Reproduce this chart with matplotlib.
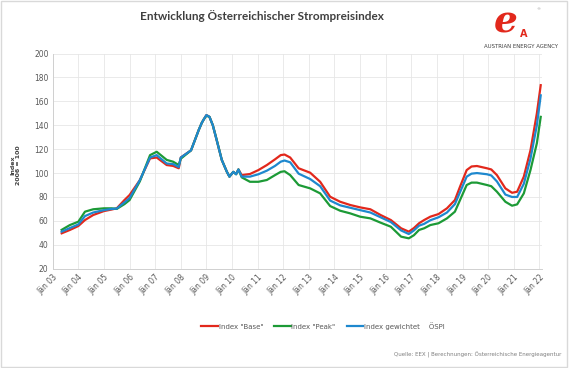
import matplotlib
matplotlib.use("Agg")
import matplotlib.pyplot as plt
from matplotlib.patches import Rectangle

# time points (decimal years)
t = [2003.35, 2003.67, 2004.0, 2004.26, 2004.58, 2005.0, 2005.3, 2005.5, 2005.8, 2006.0,
     2006.4, 2006.8, 2007.06, 2007.45, 2007.7, 2007.92, 2008.0, 2008.4, 2008.7, 2008.82,
     2008.9, 2009.0, 2009.12, 2009.25, 2009.4, 2009.6, 2009.8, 2009.9, 2010.05, 2010.16,
     2010.25, 2010.38, 2010.7, 2011.03, 2011.36, 2011.68, 2011.9, 2012.05, 2012.27, 2012.6,
     2013.05, 2013.44, 2013.83, 2014.22, 2014.61, 2015.0, 2015.4, 2015.8, 2016.2, 2016.6,
     2016.9, 2017.1, 2017.3, 2017.5, 2017.74, 2018.06, 2018.39, 2018.7, 2018.9, 2019.16,
     2019.35, 2019.56, 2019.95, 2020.12, 2020.34, 2020.67, 2020.93, 2021.13, 2021.39, 2021.65,
     2021.9, 2022.05]

base = [49.6, 52.4, 55.7, 60.7, 64.9, 68.2, 69.5, 70.5, 77.4, 81.6,
        94, 112.3, 113, 106.7, 106, 104, 113, 119, 136, 142,
        145, 148.5, 147, 140, 127.6, 111, 101, 97, 101, 99.2,
        103, 98.3, 99.2, 102.5, 106.7, 111.5, 115, 115.5, 113, 104,
        100.3, 92.7, 80.2, 76, 73.3, 71.3, 69.7, 64.9, 60.7, 53.8,
        51, 54, 58, 60.7, 63.5, 65.7, 70.5, 77.4, 88.6, 102.5,
        105.5, 105.9, 104, 103, 98.3, 87.2, 83.5, 84.4, 97, 119,
        150, 173.5]

peak = [52.5, 56.5, 59.3, 67.7, 69.7, 70.5, 70.5, 70.0, 74, 77.4,
        93, 115, 117.8, 111, 109.5, 106.7, 112, 119, 136, 142,
        145, 148, 147, 140, 128, 111, 101, 97, 101, 99,
        103, 96.4, 92.7, 92.7, 94.2, 98.3, 101, 101.5, 98.3, 90,
        87.2, 83, 72.4, 68.5, 66.3, 63.5, 62.1, 58.5, 55.1, 46.8,
        45.4, 48, 52.4, 53.8, 56.5, 58, 62.1, 67.7, 77.4, 90,
        92, 92, 90, 89, 84.4, 76, 72.7, 73.8, 83, 102.5,
        125, 147]

weighted = [51, 54, 57, 64, 67, 69, 70, 70.3, 75.5, 79,
            94, 113, 115, 108, 107.5, 105, 113, 119, 136, 142,
            145, 148.5, 147, 140, 127.6, 111, 101, 97, 101, 99,
            103, 97, 97, 99, 102, 106, 109.5, 110.5, 109, 99.5,
            95, 89, 77, 73, 71, 69, 67, 63, 59, 52,
            49, 52, 56, 57.5, 60.5, 63, 67, 74, 84, 97,
            99.5, 100, 99, 98, 93, 82, 80, 80, 91, 112,
            140, 165]

years = list(range(2003, 2023))
year_labels = ["Jän %02d" % (y % 100) for y in years]
yticks = list(range(20, 201, 20))

W, H = 569, 368
fig = plt.figure(figsize=(W / 100, H / 100), dpi=100)
ax = fig.add_axes([52.7 / W, 1 - 268.7 / H, (542 - 52.7) / W, (268.7 - 53.5) / H])

ax.plot(t, base, color="#E2281C", lw=1.6, label='Index "Base"', zorder=3)
ax.plot(t, peak, color="#1C9A36", lw=1.6, label='Index "Peak"', zorder=3)
ax.plot(t, weighted, color="#1E88CE", lw=1.6, label="Index gewichtet    ÖSPI", zorder=4)

ax.set_xlim(2003, 2022.1)
ax.set_ylim(20, 200)
ax.set_yticks(yticks)
ax.set_xticks(years)
ax.set_xticklabels(year_labels, rotation=45, ha="right", rotation_mode="anchor")
ax.tick_params(axis="both", length=0, labelsize=5.5, colors="#595959", pad=3)
ax.grid(True, color="#E6E6E6", lw=0.6)
for s in ["top", "right"]:
    ax.spines[s].set_visible(False)
for s in ["left", "bottom"]:
    ax.spines[s].set_color("#D0D0D0")
    ax.spines[s].set_linewidth(0.7)

fig.text(16 / W, 1 - 165 / H, "Index\n2006 = 100", rotation=90, ha="center", va="center",
         fontsize=4.5, fontweight="bold", color="#404040", linespacing=1.2)

fig.text(262 / W, 1 - 16 / H, "Entwicklung Österreichischer Strompreisindex",
         ha="center", va="center", fontsize=8.5, fontweight="bold", family="Lato", color="#404040")

# logo
fig.text(506 / W, 1 - 22 / H, "e", ha="center", va="center", fontsize=27, fontweight="bold",
         style="italic", color="#E2281C", family="DejaVu Serif")
fig.text(524 / W, 1 - 34 / H, "A", ha="center", va="center", fontsize=7, fontweight="bold",
         color="#E2281C")
fig.text(538 / W, 1 - 9 / H, "®", ha="center", va="center", fontsize=3, color="#999999")
fig.text(521 / W, 1 - 47 / H, "AUSTRIAN ENERGY AGENCY", ha="center", va="center",
         fontsize=3.9, color="#404040")

leg = fig.legend(loc="center", bbox_to_anchor=(323 / W, 1 - 326 / H), ncol=3, frameon=False,
                 fontsize=5, handlelength=2.4, handletextpad=0.1, columnspacing=1.6)
for txt in leg.get_texts():
    txt.set_color("#595959")

fig.text(561 / W, 1 - 355 / H, "Quelle: EEX | Berechnungen: Österreichische Energieagentur",
         ha="right", va="center", fontsize=4, color="#7F7F7F")

fig.patches.append(Rectangle((0.002, 0.003), 0.995, 0.994, transform=fig.transFigure,
                             fill=False, edgecolor="#D9D9D9", lw=1.0))

fig.savefig("out.png", dpi=100)
